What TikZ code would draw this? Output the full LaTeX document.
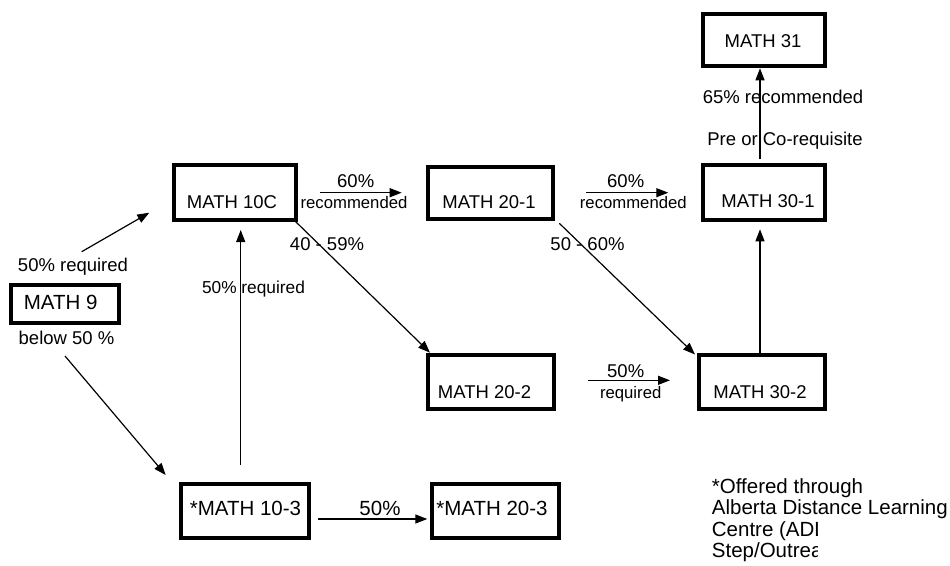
\documentclass[tikz,border=0pt]{standalone}
\usepackage{fontspec}
\setmainfont{Liberation Sans}
\usetikzlibrary{arrows.meta}
\begin{document}
\begin{tikzpicture}[x=1pt,y=-1pt,
  box/.style={draw, line width=4pt, inner sep=0pt},
  lbl/.style={inner sep=0pt, anchor=base, font=\fontsize{18.5}{22}\selectfont},
  blbl/.style={inner sep=0pt, anchor=base, font=\fontsize{20.5}{24}\selectfont},
  slbl/.style={inner sep=0pt, anchor=base, font=\fontsize{16.7}{20}\selectfont},
  leg/.style={inner sep=0pt, anchor=base west, font=\fontsize{20.5}{24}\selectfont},
  arr/.style={line width=1.2pt, -{Triangle[length=12pt,width=9pt]}}]
\useasboundingbox (0,0) rectangle (950,565);
% boxes
\node[box, minimum width=122pt, minimum height=52.6pt] (b31) at (763.7,40) {};
\node[box, minimum width=122pt, minimum height=55pt] (b301) at (763.7,192.2) {};
\node[box, minimum width=121.7pt, minimum height=54.4pt] (b10c) at (234.9,192.5) {};
\node[box, minimum width=125.6pt, minimum height=52pt] (b201) at (490.5,193) {};
\node[box, minimum width=107.7pt, minimum height=37.7pt] (b9) at (64.9,304.2) {};
\node[box, minimum width=126.3pt, minimum height=53.7pt] (b202) at (490.9,382.2) {};
\node[box, minimum width=125.4pt, minimum height=53.7pt] (b302) at (762,382.2) {};
\node[box, minimum width=128pt, minimum height=53.7pt] (b103) at (245,511.2) {};
\node[box, minimum width=126.7pt, minimum height=53.7pt] (b203) at (495.4,511.2) {};
% box texts
\node[lbl] (t31) at (763,47.3) {MATH 31};
\node[lbl] (t301) at (768,207.6) {MATH 30-1};
\node[lbl] (t10c) at (232,208.3) {MATH 10C};
\node[lbl] (t201) at (489,208.9) {MATH 20-1};
\node[blbl] (t9) at (60.7,309) {MATH 9};
\node[lbl] (t202) at (484.5,398.3) {MATH 20-2};
\node[lbl] (t302) at (760,398.3) {MATH 30-2};
\node[blbl] (t103) at (245.5,515.6) {*MATH 10-3};
\node[blbl] (t203) at (492,515.3) {*MATH 20-3};
% connector ends
\coordinate (s1) at (81.7,251.7);   \coordinate (e1) at (149.3,212.7);
\coordinate (s2) at (65,356);       \coordinate (e2) at (165.7,475);
\coordinate (s3) at (240.7,465);    \coordinate (e3) at (240.7,230);
\coordinate (s4) at (318,519);      \coordinate (e4) at (427.3,519);
\coordinate (s5) at (295,221);      \coordinate (e5) at (430,352.7);
\coordinate (s6) at (320,192.7);    \coordinate (e6) at (401.7,192.7);
\coordinate (s7) at (586,192.7);    \coordinate (e7) at (668.3,192.7);
\coordinate (s8) at (559.3,223.3);  \coordinate (e8) at (695,354.5);
\coordinate (s9) at (587.7,380.3);  \coordinate (e9) at (670,380.3);
\coordinate (s10) at (760,353);     \coordinate (e10) at (760,229.3);
\coordinate (s11) at (760,159);     \coordinate (e11) at (760,68.3);
% connectors
\draw[arr] (s1) -- (e1);
\draw[arr] (s2) -- (e2);
\draw[arr] (s3) -- (e3);
\draw[arr] (s4) -- (e4);
\draw[arr] (s5) -- (e5);
\draw[arr] (s6) -- (e6);
\draw[arr] (s7) -- (e7);
\draw[arr] (s8) -- (e8);
\draw[arr] (s9) -- (e9);
\draw[arr] (s10) -- (e10);
\draw[arr] (s11) -- (e11);
% labels
\node[lbl] (l1) at (73,271.5) {50\% required};
\node[lbl] (l2) at (66.5,344.5) {below 50 \%};
\node[lbl, font=\fontsize{17.3}{20}\selectfont] (l3) at (253.5,293) {50\% required};
\node[lbl] (l4) at (327,250.8) {40 - 59\%};
\node[lbl] (l5) at (587.5,250.8) {50 - 60\%};
\node[lbl] (l6) at (355.7,187.5) {60\%};
\node[slbl] (l7) at (354,208) {recommended};
\node[lbl] (l8) at (625.7,187.5) {60\%};
\node[slbl] (l9) at (633.3,208) {recommended};
\node[lbl] (l10) at (783,103.5) {65\% recommended};
\node[lbl] (l11) at (785,145.5) {Pre or Co-requisite};
\node[lbl] (l12) at (625.7,377) {50\%};
\node[slbl] (l13) at (630.7,398) {required};
\node[blbl] (l14) at (380,515.3) {50\%};
% legend
\node[leg] (g1) at (711.7,493) {*Offered through};
\node[leg] (g2) at (711.7,514.5) {Alberta Distance Learning};
\begin{scope}
\clip (700,518) rectangle (817.5,565);
\node[leg] (g3) at (711.7,536) {Centre (ADLC)};
\node[leg] (g4) at (711.7,557.5) {Step/Outreach};
\end{scope}
\end{tikzpicture}
\end{document}
